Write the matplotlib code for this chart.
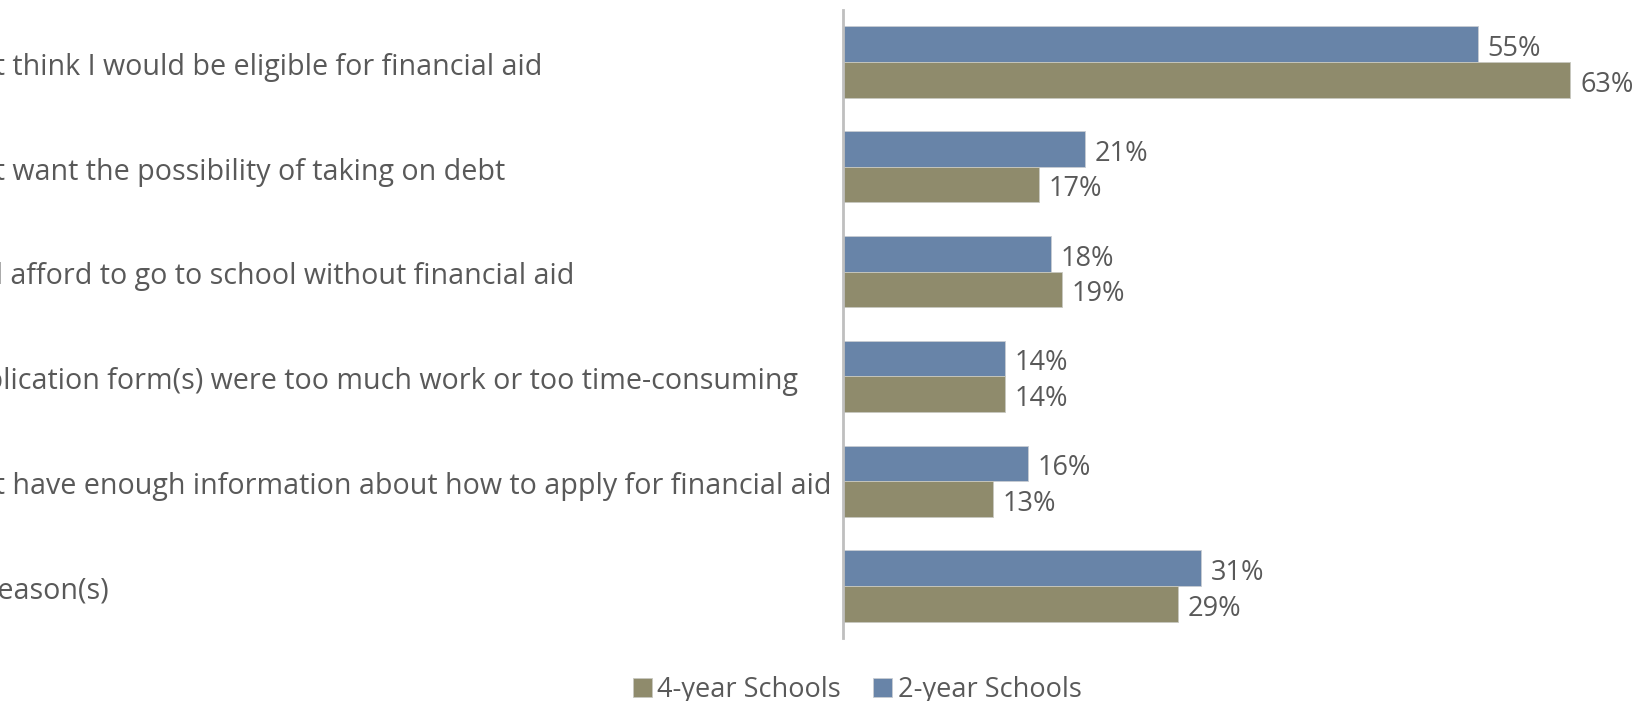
import matplotlib.pyplot as plt
import numpy as np
from matplotlib.transforms import blended_transform_factory

plt.rcParams['font.family'] = ['Open Sans', 'DejaVu Sans']

reasons = ["I didn't think I would be eligible for financial aid",
           "I didn't want the possibility of taking on debt",
           "I could afford to go to school without financial aid",
           "The application form(s) were too much work or too time-consuming",
           "I didn't have enough information about how to apply for financial aid",
           "Other reason(s)"]
# start of each label that runs off the left edge, and the extra shift in px
hidden = ["I didn'", "I didn'", "I could", "The app", "I didn'", "Other r"]
shift = [5, 5, -3, -3, 5, 3]
two_year = [55, 21, 18, 14, 16, 31]
four_year = [63, 17, 19, 14, 13, 29]

blue = '#6884a8'
tan = '#8f8b6c'
grey_text = '#595959'
fs = 19.5
fs_cat = 20.6

fig = plt.figure(figsize=(16.39, 7.01), dpi=100)
ax = fig.add_axes([0.5143, 0.0893, 0.479, 0.897])

y = np.arange(len(reasons))
h = 0.34
b2 = ax.barh(y - h/2, two_year, height=h, color=blue, edgecolor='#c8ccd2',
             linewidth=0.6, label='2-year Schools')
b4 = ax.barh(y + h/2, four_year, height=h, color=tan, edgecolor='#c8c8c0',
             linewidth=0.6, label='4-year Schools')
anns = ax.bar_label(b2, labels=[f'{v}%' for v in two_year], padding=7,
                    fontsize=fs, color=grey_text)
anns += ax.bar_label(b4, labels=[f'{v}%' for v in four_year], padding=7,
                     fontsize=fs, color=grey_text)
for a in anns:
    a.xyann = (7, -3.5)

ax.set_xlim(0, 68)
ax.set_ylim(len(reasons) - 0.5, -0.5)
ax.set_xticks([])
ax.set_yticks([])
for s in ['top', 'right', 'bottom']:
    ax.spines[s].set_visible(False)
ax.spines['left'].set_color('#bfbfbf')
ax.spines['left'].set_linewidth(2)

# category labels are left aligned and run off the left edge of the figure
r = fig.canvas.get_renderer()
fig_w = fig.get_figwidth() * fig.dpi
tr = blended_transform_factory(fig.transFigure, ax.transData)
for i, lab in enumerate(reasons):
    tmp = fig.text(0, 0, hidden[i], fontsize=fs_cat)
    w = tmp.get_window_extent(r).width
    tmp.remove()
    ax.text(-(w + shift[i]) / fig_w, i + 0.05, lab, transform=tr, ha='left',
            va='center', fontsize=fs_cat, color=grey_text, clip_on=False)

leg = fig.legend(handles=[b4, b2], labels=['4-year Schools', '2-year Schools'],
                 loc='center', bbox_to_anchor=(0.523, 0.016), ncol=2,
                 frameon=False, handlelength=0.7, handleheight=0.7,
                 handletextpad=0.2, columnspacing=1.2, fontsize=fs)
for t in leg.get_texts():
    t.set_color(grey_text)

fig.savefig('out.png', dpi=100)
